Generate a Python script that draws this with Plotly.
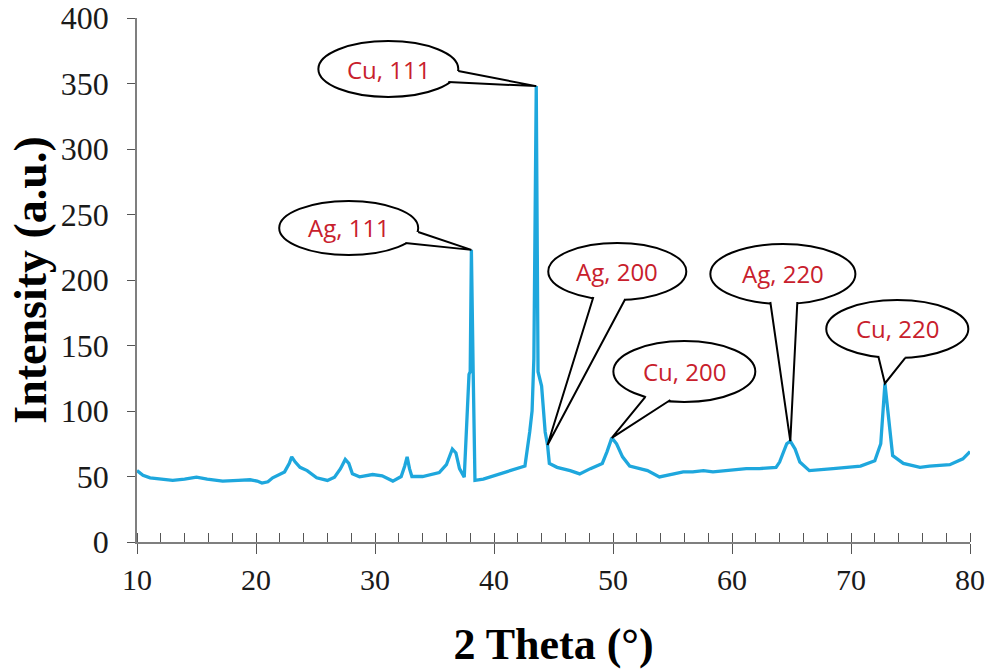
import plotly.graph_objects as go

# ---- data ----
two_theta = [10.0, 10.5, 11.1, 12.2, 13.0, 14.0, 15.0, 15.9, 17.2, 18.5, 19.5, 20.1, 20.5, 21.0,
             21.4, 22.4, 22.8, 23.0, 23.3, 23.7, 24.3, 25.1, 26.0, 26.6, 27.1, 27.5, 27.8, 28.1,
             28.7, 29.8, 30.6, 31.5, 32.2, 32.5, 32.7, 32.9, 33.1, 34.0, 35.4, 36.0, 36.5, 36.8,
             37.1, 37.5, 37.7, 37.9, 38.0, 38.1, 38.25, 38.4, 39.1, 40.5, 41.9, 42.3, 42.6, 43.0,
             43.2, 43.35, 43.55, 43.7, 43.85, 44.0, 44.3, 44.5, 44.65, 45.3, 46.4, 47.2, 48.1,
             49.1, 49.5, 49.9, 50.3, 50.8, 51.4, 52.9, 53.9, 55.0, 55.9, 56.7, 57.6, 58.4, 59.8,
             61.2, 62.3, 63.7, 64.0, 64.6, 64.9, 65.3, 65.7, 66.5, 68.5, 70.8, 72.0, 72.5, 72.85,
             73.2, 73.5, 74.4, 75.8, 76.6, 78.3, 79.4, 80.0]
intensity = [54.5, 51, 49, 48, 47, 48, 49.5, 48, 46.5, 47, 47.5, 46.5, 45, 46,
             49, 53.5, 60, 65, 61, 57, 54.5, 49, 47, 49.5, 56, 63, 60, 52,
             49.7, 51.5, 50.5, 46.5, 50, 58, 65, 56, 50, 50, 53, 59, 71, 68,
             56, 49.5, 95, 128, 130, 223, 130, 47, 48, 52, 56, 57, 58, 84,
             100, 140, 348, 130, 125, 119, 84, 74, 60, 57, 54.5, 52, 56,
             60, 69, 79.5, 75, 65, 58, 54.5, 49.7, 52, 53.5, 53.5, 54.5, 53.5, 55,
             56, 56, 57, 61, 75, 77, 71, 61, 54.5, 56, 58, 62, 75, 121,
             89, 66, 60, 57, 58, 59, 63.5, 69]

peak_labels = ["Cu, 111", "Ag, 111", "Ag, 200", "Cu, 200", "Ag, 220", "Cu, 220"]
peak_positions = [43.55, 38.1, 44.5, 49.9, 64.9, 72.85]

x_ticks = [10, 20, 30, 40, 50, 60, 70, 80]
y_ticks = [0, 50, 100, 150, 200, 250, 300, 350, 400]

# ---- callout layout (ellipse box x0,x1,y0,y1 and tail base points, in axis units) ----
callout_boxes = [
    (25.24, 37.0, 339.7, 382.4, (37.0, 359.5), (36.16, 351.1)),
    (21.95, 33.63, 219.1, 260.3, (33.63, 236.6), (32.54, 228.2)),
    (44.56, 56.16, 184.7, 228.2, (48.35, 187.0), (51.03, 185.5)),
    (50.03, 61.96, 106.9, 153.4, (52.72, 110.7), (54.82, 108.4)),
    (58.18, 70.37, 181.7, 227.5, (63.22, 183.2), (65.49, 183.2)),
    (67.92, 79.86, 140.5, 184.7, (72.29, 142.0), (74.56, 140.5)),
]

LINE_COLOR = "#1ea7dd"
TEXT_RED = "#c8202c"
SERIF = "Liberation Serif, Times New Roman, serif"

fig = go.Figure()
fig.add_trace(go.Scatter(x=two_theta, y=intensity, mode="lines",
                         line=dict(color=LINE_COLOR, width=3.3), showlegend=False,
                         hoverinfo="x+y"))
# dummy trace for the overlay axis (inside ticks)
fig.add_trace(go.Scatter(x=[], y=[], xaxis="x2", yaxis="y", showlegend=False))

shapes = []
annotations = []
for label, pos, box in zip(peak_labels, peak_positions, callout_boxes):
    i = min(range(len(two_theta)), key=lambda k: abs(two_theta[k] - pos))
    tx, ty = two_theta[i], intensity[i]
    x0, x1, y0, y1, b1, b2 = box
    cx, cy = (x0 + x1) / 2, (y0 + y1) / 2
    shapes.append(dict(type="circle", xref="x", yref="y", x0=x0, x1=x1, y0=y0, y1=y1,
                       line=dict(color="black", width=2), fillcolor="white", layer="above"))
    f = 0.12
    p1 = (b1[0] + f * (tx - b1[0]), b1[1] + f * (ty - b1[1]))
    p2 = (b2[0] + f * (tx - b2[0]), b2[1] + f * (ty - b2[1]))
    cover = (f"M {b1[0]},{b1[1]} L {p1[0]},{p1[1]} L {p2[0]},{p2[1]} L {b2[0]},{b2[1]} "
             f"L {cx},{cy} Z")
    shapes.append(dict(type="path", xref="x", yref="y", path=cover, fillcolor="white",
                       line=dict(width=0), layer="above"))
    tail = f"M {b1[0]},{b1[1]} L {tx},{ty} L {b2[0]},{b2[1]}"
    shapes.append(dict(type="path", xref="x", yref="y", path=tail, fillcolor="rgba(0,0,0,0)",
                       line=dict(color="black", width=2), layer="above"))
    annotations.append(dict(x=cx, y=cy, xref="x", yref="y", text=label, showarrow=False,
                            font=dict(family="Open Sans, Noto Sans, sans-serif", size=24,
                                      color=TEXT_RED)))

fig.update_layout(
    width=995, height=669,
    margin=dict(l=137, r=25, t=18, b=127),
    paper_bgcolor="white", plot_bgcolor="white",
    shapes=shapes, annotations=annotations,
    xaxis=dict(range=[10, 80], tickvals=x_ticks, ticktext=[str(v) for v in x_ticks],
               automargin=False,
               ticks="outside", ticklen=10, tickwidth=1.3, tickcolor="#555555",
               minor=dict(ticks="inside", dtick=2, ticklen=9, tickcolor="#555555", tickwidth=1.2),
               showline=True, linecolor="#7f7f7f", linewidth=1.5, showgrid=False, zeroline=False,
               tickfont=dict(family=SERIF, size=30, color="#1a1a1a"), ticklabelstandoff=0,
               title=dict(text="<b>2 Theta (°)</b>", standoff=37,
                          font=dict(family=SERIF, size=44, color="black"))),
    xaxis2=dict(range=[10, 80], overlaying="x", anchor="y", side="bottom", tickvals=x_ticks,
                automargin=False,
                ticks="inside", ticklen=9, tickwidth=1.3, tickcolor="#555555",
                showticklabels=False, showline=False, showgrid=False, zeroline=False),
    yaxis=dict(range=[0, 400], tickvals=y_ticks, ticktext=[str(v) for v in y_ticks],
               automargin=False,
               ticks="outside", ticklen=8, tickwidth=1.3, tickcolor="#555555",
               showline=True, linecolor="#7f7f7f", linewidth=1.5, showgrid=False, zeroline=False,
               tickfont=dict(family=SERIF, size=32, color="#1a1a1a"), ticklabelstandoff=12,
               title=dict(text="<b>Intensity (a.u.)</b>", standoff=0,
                          font=dict(family=SERIF, size=46, color="black"))),
)

fig.write_html("out.html", config={"displayModeBar": False},
               post_script="document.body.style.margin='0';document.body.style.padding='0';")
